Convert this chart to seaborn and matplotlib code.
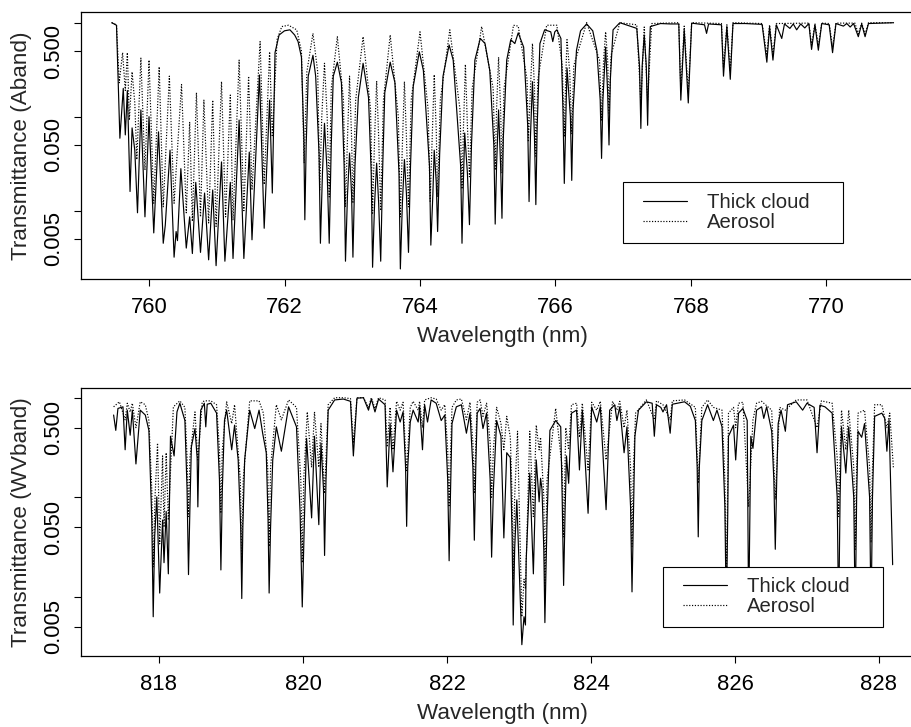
import numpy as np
import pandas as pd
import matplotlib
matplotlib.use('Agg')
import matplotlib.pyplot as plt
from matplotlib.patches import Rectangle
import seaborn as sns

# (wavelength nm, transmittance), O2 A band
aband_cloud = [
    (759.45, 1.0), (759.52, 0.94), (759.57, 0.059), (759.62, 0.20), (759.65, 0.064),
    (759.68, 0.19), (759.72, 0.016), (759.75, 0.076), (759.79, 0.044), (759.83, 0.0095),
    (759.88, 0.118), (759.94, 0.0086), (760.00, 0.10), (760.07, 0.0058), (760.14, 0.069),
    (760.21, 0.0045), (760.24, 0.0070), (760.31, 0.044), (760.37, 0.0032), (760.40, 0.0060),
    (760.42, 0.0048), (760.47, 0.028), (760.55, 0.0040), (760.60, 0.0086), (760.64, 0.0035),
    (760.69, 0.020), (760.76, 0.0036), (760.82, 0.0154), (760.88, 0.0030), (760.94, 0.0166),
    (760.99, 0.0026), (761.07, 0.033), (761.12, 0.0029), (761.20, 0.020), (761.24, 0.0031),
    (761.33, 0.092), (761.40, 0.0031), (761.48, 0.042), (761.52, 0.0049), (761.63, 0.278),
    (761.70, 0.0065), (761.78, 0.15), (761.82, 0.0154), (761.86, 0.48), (761.92, 0.74),
    (762.00, 0.82), (762.08, 0.84), (762.15, 0.74), (762.20, 0.63), (762.25, 0.43),
    (762.285, 0.06), (762.30, 0.0080), (762.32, 0.05), (762.35, 0.27), (762.42, 0.45),
    (762.46, 0.27), (762.51, 0.04), (762.53, 0.0045), (762.56, 0.025), (762.59, 0.085),
    (762.63, 0.025), (762.66, 0.0045), (762.69, 0.05), (762.72, 0.27), (762.78, 0.38),
    (762.84, 0.23), (762.88, 0.03), (762.90, 0.0029), (762.93, 0.015), (762.96, 0.041),
    (762.99, 0.015), (763.01, 0.0032), (763.04, 0.03), (763.09, 0.16), (763.16, 0.37),
    (763.24, 0.16), (763.28, 0.025), (763.30, 0.0025), (763.33, 0.012), (763.36, 0.032),
    (763.39, 0.012), (763.42, 0.0029), (763.45, 0.03), (763.48, 0.18), (763.56, 0.38),
    (763.63, 0.23), (763.69, 0.025), (763.71, 0.0024), (763.74, 0.012), (763.77, 0.035),
    (763.80, 0.015), (763.83, 0.0036), (763.86, 0.03), (763.90, 0.21), (763.99, 0.49),
    (764.05, 0.31), (764.14, 0.03), (764.16, 0.0043), (764.19, 0.015), (764.21, 0.044),
    (764.24, 0.02), (764.26, 0.0060), (764.29, 0.04), (764.34, 0.27), (764.43, 0.58),
    (764.49, 0.40), (764.60, 0.03), (764.62, 0.0045), (764.64, 0.02), (764.66, 0.067),
    (764.70, 0.025), (764.73, 0.0071), (764.76, 0.05), (764.81, 0.40), (764.89, 0.68),
    (764.96, 0.60), (765.03, 0.31), (765.09, 0.05), (765.11, 0.0072), (765.13, 0.03),
    (765.16, 0.118), (765.19, 0.03), (765.21, 0.0083), (765.23, 0.06), (765.28, 0.40),
    (765.34, 0.66), (765.40, 0.60), (765.45, 0.78), (765.53, 0.55), (765.59, 0.08),
    (765.61, 0.0125), (765.63, 0.06), (765.66, 0.236), (765.69, 0.06), (765.71, 0.0116),
    (765.73, 0.08), (765.77, 0.60), (765.84, 0.84), (765.93, 0.80), (765.96, 0.63),
    (765.99, 0.80), (766.02, 0.84), (766.08, 0.68), (766.11, 0.12), (766.13, 0.0195),
    (766.15, 0.08), (766.17, 0.33), (766.22, 0.10), (766.24, 0.021), (766.26, 0.12),
    (766.31, 0.51), (766.37, 0.82), (766.46, 0.97), (766.55, 0.82), (766.61, 0.51),
    (766.66, 0.15), (766.68, 0.036), (766.70, 0.15), (766.74, 0.55), (766.77, 0.18),
    (766.79, 0.050), (766.81, 0.25), (766.85, 0.84), (766.95, 1.0), (767.20, 0.87),
    (767.24, 0.35), (767.26, 0.075), (767.28, 0.35), (767.31, 0.74), (767.34, 0.35),
    (767.36, 0.081), (767.38, 0.40), (767.40, 0.91), (767.55, 0.98), (767.70, 0.97),
    (767.82, 0.97), (767.85, 0.15), (767.90, 0.84), (767.96, 0.14), (768.01, 0.99),
    (768.20, 0.95), (768.23, 0.77), (768.26, 0.97), (768.45, 0.95), (768.48, 0.27),
    (768.53, 0.91), (768.58, 0.25), (768.62, 0.98), (768.80, 0.98), (769.05, 0.96),
    (769.12, 0.38), (769.16, 0.90), (769.21, 0.40), (769.26, 0.95), (769.34, 0.68),
    (769.38, 0.97), (769.46, 0.87), (769.51, 0.97), (769.56, 0.84), (769.62, 0.97),
    (769.68, 0.88), (769.74, 0.98), (769.78, 0.52), (769.83, 0.95), (769.88, 0.51),
    (769.93, 0.98), (770.04, 0.95), (770.09, 0.48), (770.14, 0.98), (770.25, 0.92),
    (770.30, 0.98), (770.35, 0.90), (770.40, 0.98), (770.47, 0.71), (770.52, 0.97),
    (770.57, 0.71), (770.62, 0.98), (770.99, 1.0),
]

aband_aerosol = [
    (759.45, 1.0), (759.52, 0.95), (759.56, 0.23), (759.61, 0.48), (759.65, 0.19),
    (759.68, 0.48), (759.71, 0.092), (759.75, 0.30), (759.79, 0.14), (759.82, 0.035),
    (759.88, 0.42), (759.94, 0.027), (760.00, 0.40), (760.07, 0.012), (760.15, 0.34),
    (760.21, 0.011), (760.30, 0.27), (760.37, 0.012), (760.48, 0.22), (760.55, 0.0095),
    (760.60, 0.088), (760.64, 0.0077), (760.70, 0.18), (760.76, 0.0086), (760.81, 0.15),
    (760.88, 0.0074), (760.94, 0.15), (760.99, 0.0068), (761.07, 0.236), (761.13, 0.0086),
    (761.20, 0.17), (761.24, 0.0079), (761.33, 0.40), (761.40, 0.0100), (761.47, 0.27),
    (761.52, 0.0166), (761.64, 0.63), (761.70, 0.019), (761.78, 0.49), (761.82, 0.061),
    (761.89, 0.66), (761.96, 0.91), (762.06, 0.94), (762.18, 0.84), (762.25, 0.50),
    (762.29, 0.032), (762.33, 0.30), (762.42, 0.77), (762.49, 0.30), (762.52, 0.0166),
    (762.55, 0.10), (762.59, 0.37), (762.63, 0.10), (762.66, 0.014), (762.69, 0.20),
    (762.78, 0.71), (762.87, 0.15), (762.90, 0.0111), (762.93, 0.06), (762.96, 0.27),
    (762.99, 0.06), (763.01, 0.012), (763.05, 0.15), (763.16, 0.71), (763.27, 0.12),
    (763.30, 0.0094), (763.33, 0.06), (763.36, 0.24), (763.39, 0.06), (763.42, 0.010),
    (763.46, 0.15), (763.56, 0.74), (763.68, 0.10), (763.71, 0.0086), (763.74, 0.05),
    (763.77, 0.236), (763.80, 0.06), (763.83, 0.011), (763.87, 0.15), (764.00, 0.80),
    (764.12, 0.12), (764.15, 0.0126), (764.18, 0.06), (764.21, 0.28), (764.24, 0.07),
    (764.26, 0.014), (764.30, 0.15), (764.44, 0.84), (764.59, 0.12), (764.62, 0.017),
    (764.64, 0.07), (764.67, 0.36), (764.70, 0.08), (764.73, 0.023), (764.77, 0.20),
    (764.91, 0.91), (765.08, 0.20), (765.11, 0.027), (765.13, 0.12), (765.16, 0.43),
    (765.19, 0.12), (765.21, 0.025), (765.24, 0.20), (765.38, 0.94), (765.45, 0.92),
    (765.58, 0.25), (765.60, 0.054), (765.63, 0.20), (765.66, 0.60), (765.69, 0.20),
    (765.71, 0.038), (765.74, 0.25), (765.87, 0.94), (766.02, 0.94), (766.10, 0.35),
    (766.13, 0.061), (766.15, 0.25), (766.17, 0.66), (766.21, 0.30), (766.24, 0.066),
    (766.27, 0.35), (766.46, 1.0), (766.65, 0.40), (766.68, 0.092), (766.71, 0.40),
    (766.74, 0.80), (766.77, 0.40), (766.79, 0.109), (766.82, 0.45), (766.95, 1.0),
    (767.20, 0.95), (767.26, 0.14), (767.31, 0.90), (767.36, 0.15), (767.42, 0.98),
    (767.82, 1.0), (767.85, 0.19), (767.90, 0.92), (767.96, 0.18), (768.01, 1.0),
    (768.45, 0.98), (768.48, 0.33), (768.53, 0.95), (768.58, 0.31), (768.62, 1.0),
    (769.05, 0.98), (769.12, 0.45), (769.16, 0.95), (769.21, 0.46), (769.26, 0.98),
    (769.74, 0.99), (769.78, 0.58), (769.83, 0.98), (769.88, 0.57), (769.93, 0.99),
    (770.04, 0.98), (770.09, 0.55), (770.14, 0.99), (770.42, 0.99), (770.47, 0.76),
    (770.52, 0.99), (770.57, 0.76), (770.62, 1.0), (770.99, 1.0),
]

# water vapour band
wv_cloud = [
    (817.37, 0.67), (817.40, 0.47), (817.43, 0.78), (817.50, 0.81), (817.53, 0.30),
    (817.56, 0.75), (817.60, 0.42), (817.63, 0.75), (817.68, 0.216), (817.74, 0.75),
    (817.81, 0.67), (817.86, 0.47), (817.90, 0.06), (817.92, 0.0063), (817.94, 0.04),
    (817.97, 0.101), (818.01, 0.0109), (818.05, 0.059), (818.07, 0.022), (818.10, 0.072),
    (818.13, 0.017), (818.16, 0.41), (818.21, 0.26), (818.25, 0.72), (818.29, 0.88),
    (818.36, 0.59), (818.39, 0.12), (818.41, 0.0167), (818.43, 0.08), (818.45, 0.32),
    (818.50, 0.49), (818.53, 0.25), (818.54, 0.080), (818.555, 0.30), (818.58, 0.75),
    (818.63, 0.88), (818.65, 0.51), (818.67, 0.86), (818.72, 0.88), (818.80, 0.70),
    (818.84, 0.15), (818.86, 0.0186), (818.88, 0.12), (818.91, 0.59), (818.94, 0.75),
    (819.01, 0.30), (819.05, 0.53), (819.10, 0.237), (819.135, 0.05), (819.15, 0.0096),
    (819.165, 0.05), (819.19, 0.237), (819.26, 0.75), (819.33, 0.49), (819.39, 0.75),
    (819.44, 0.44), (819.49, 0.28), (819.515, 0.06), (819.53, 0.0109), (819.55, 0.05),
    (819.58, 0.237), (819.63, 0.51), (819.70, 0.29), (819.80, 0.81), (819.91, 0.51),
    (819.96, 0.07), (819.99, 0.0079), (820.02, 0.06), (820.05, 0.39), (820.12, 0.062),
    (820.16, 0.41), (820.22, 0.053), (820.25, 0.35), (820.285, 0.12), (820.30, 0.026),
    (820.32, 0.15), (820.35, 0.75), (820.44, 0.95), (820.56, 0.97), (820.66, 0.92),
    (820.70, 0.26), (820.75, 0.99), (820.84, 1.0), (820.91, 0.75), (820.95, 0.97),
    (821.00, 0.72), (821.05, 0.97), (821.14, 0.85), (821.17, 0.127), (821.21, 0.55),
    (821.25, 0.18), (821.30, 0.75), (821.35, 0.57), (821.39, 0.72), (821.425, 0.20),
    (821.44, 0.051), (821.455, 0.20), (821.49, 0.57), (821.53, 0.75), (821.60, 0.57),
    (821.62, 0.81), (821.66, 0.30), (821.69, 0.85), (821.73, 0.57), (821.78, 0.95),
    (821.85, 0.88), (821.92, 0.59), (821.97, 0.67), (822.01, 0.15), (822.03, 0.023),
    (822.05, 0.12), (822.07, 0.55), (822.13, 0.81), (822.20, 0.85), (822.27, 0.44),
    (822.32, 0.70), (822.36, 0.20), (822.38, 0.037), (822.40, 0.20), (822.42, 0.70),
    (822.46, 0.78), (822.50, 0.49), (822.55, 0.70), (822.60, 0.15), (822.62, 0.025),
    (822.645, 0.12), (822.69, 0.59), (822.75, 0.41), (822.79, 0.039), (822.83, 0.28),
    (822.88, 0.25), (822.905, 0.04), (822.92, 0.0052), (822.94, 0.03), (822.97, 0.094),
    (823.04, 0.0033), (823.07, 0.0063), (823.09, 0.0052), (823.10, 0.023), (823.15, 0.175),
    (823.20, 0.017), (823.24, 0.237), (823.28, 0.090), (823.30, 0.155), (823.32, 0.12),
    (823.345, 0.03), (823.36, 0.0055), (823.39, 0.06), (823.43, 0.47), (823.51, 0.59),
    (823.58, 0.51), (823.60, 0.10), (823.62, 0.013), (823.64, 0.07), (823.66, 0.26),
    (823.69, 0.138), (823.73, 0.70), (823.80, 0.75), (823.84, 0.188), (823.88, 0.75),
    (823.96, 0.069), (824.01, 0.81), (824.08, 0.57), (824.13, 0.81), (824.21, 0.075),
    (824.26, 0.75), (824.33, 0.85), (824.36, 0.59), (824.40, 0.81), (824.46, 0.28),
    (824.50, 0.51), (824.55, 0.08), (824.57, 0.0112), (824.59, 0.07), (824.61, 0.41),
    (824.66, 0.75), (824.77, 0.91), (824.85, 0.88), (824.88, 0.41), (824.91, 0.85),
    (824.97, 0.80), (825.00, 0.72), (825.05, 0.85), (825.10, 0.44), (825.13, 0.86),
    (825.20, 0.88), (825.30, 0.91), (825.38, 0.82), (825.45, 0.59), (825.475, 0.20),
    (825.49, 0.040), (825.505, 0.20), (825.54, 0.59), (825.62, 0.85), (825.70, 0.59),
    (825.75, 0.75), (825.82, 0.51), (825.86, 0.08), (825.88, 0.006), (825.90, 0.07),
    (825.91, 0.41), (825.98, 0.53), (826.01, 0.237), (826.05, 0.70), (826.11, 0.78),
    (826.17, 0.59), (826.19, 0.006), (826.22, 0.41), (826.25, 0.31), (826.30, 0.75),
    (826.37, 0.81), (826.40, 0.62), (826.44, 0.81), (826.51, 0.46), (826.54, 0.15),
    (826.56, 0.030), (826.58, 0.15), (826.60, 0.55), (826.64, 0.75), (826.70, 0.46),
    (826.73, 0.85), (826.85, 0.91), (826.94, 0.75), (827.00, 0.88), (827.10, 0.80),
    (827.14, 0.28), (827.18, 0.84), (827.25, 0.81), (827.35, 0.70), (827.42, 0.10),
    (827.44, 0.006), (827.46, 0.10), (827.48, 0.51), (827.54, 0.175), (827.58, 0.51),
    (827.65, 0.10), (827.67, 0.006), (827.69, 0.10), (827.71, 0.46), (827.76, 0.40),
    (827.80, 0.55), (827.87, 0.10), (827.89, 0.006), (827.91, 0.10), (827.94, 0.65),
    (828.04, 0.70), (828.08, 0.62), (828.11, 0.29), (828.14, 0.60), (828.19, 0.021),
]

wv_aerosol = [
    (817.37, 0.81), (817.45, 0.91), (817.53, 0.60), (817.56, 0.88), (817.60, 0.72),
    (817.63, 0.88), (817.68, 0.50), (817.74, 0.91), (817.81, 0.85), (817.86, 0.59),
    (817.90, 0.12), (817.92, 0.020), (817.945, 0.10), (817.98, 0.35), (818.01, 0.034),
    (818.05, 0.26), (818.07, 0.050), (818.10, 0.28), (818.13, 0.059), (818.20, 0.81),
    (818.29, 0.93), (818.36, 0.80), (818.39, 0.25), (818.41, 0.064), (818.43, 0.25),
    (818.50, 0.72), (818.54, 0.237), (818.60, 0.90), (818.63, 0.93), (818.72, 0.93),
    (818.80, 0.85), (818.84, 0.30), (818.86, 0.069), (818.88, 0.30), (818.94, 0.91),
    (819.01, 0.55), (819.05, 0.85), (819.13, 0.15), (819.15, 0.022), (819.17, 0.15),
    (819.26, 0.93), (819.39, 0.93), (819.45, 0.70), (819.51, 0.20), (819.53, 0.032),
    (819.55, 0.20), (819.63, 0.85), (819.70, 0.60), (819.80, 0.95), (819.91, 0.80),
    (819.97, 0.15), (819.99, 0.022), (820.01, 0.15), (820.06, 0.72), (820.12, 0.20),
    (820.16, 0.72), (820.22, 0.20), (820.25, 0.55), (820.30, 0.109), (820.35, 0.85),
    (820.44, 1.0), (820.56, 1.0), (820.66, 0.98), (820.70, 0.35), (820.75, 1.0),
    (820.84, 1.0), (820.91, 0.80), (820.95, 1.0), (821.00, 0.78), (821.05, 1.0),
    (821.14, 0.95), (821.17, 0.32), (821.21, 0.80), (821.25, 0.30), (821.30, 0.92),
    (821.35, 0.75), (821.39, 0.90), (821.44, 0.18), (821.49, 0.80), (821.53, 0.92),
    (821.60, 0.75), (821.62, 0.92), (821.66, 0.50), (821.69, 0.95), (821.78, 1.0),
    (821.85, 0.97), (821.92, 0.75), (821.97, 0.85), (822.01, 0.30), (822.03, 0.080),
    (822.05, 0.30), (822.07, 0.80), (822.13, 0.95), (822.20, 0.97), (822.27, 0.60),
    (822.32, 0.90), (822.36, 0.35), (822.38, 0.109), (822.40, 0.35), (822.42, 0.90),
    (822.46, 0.95), (822.50, 0.65), (822.55, 0.88), (822.60, 0.35), (822.62, 0.10),
    (822.645, 0.30), (822.69, 0.80), (822.75, 0.55), (822.79, 0.30), (822.83, 0.65),
    (822.88, 0.40), (822.905, 0.10), (822.92, 0.0148), (822.94, 0.10), (822.98, 0.46),
    (823.04, 0.0063), (823.07, 0.015), (823.09, 0.012), (823.15, 0.46), (823.20, 0.064),
    (823.24, 0.53), (823.28, 0.30), (823.30, 0.40), (823.345, 0.10), (823.36, 0.0125),
    (823.39, 0.15), (823.51, 0.78), (823.60, 0.20), (823.62, 0.040), (823.64, 0.20),
    (823.65, 0.50), (823.69, 0.30), (823.73, 0.85), (823.80, 0.88), (823.84, 0.40),
    (823.88, 0.88), (823.96, 0.188), (824.01, 0.90), (824.08, 0.75), (824.13, 0.92),
    (824.21, 0.237), (824.30, 0.92), (824.36, 0.75), (824.40, 0.92), (824.46, 0.50),
    (824.50, 0.75), (824.55, 0.20), (824.57, 0.032), (824.59, 0.20), (824.62, 0.70),
    (824.77, 0.95), (824.88, 0.60), (824.91, 0.93), (825.00, 0.85), (825.10, 0.60),
    (825.13, 0.93), (825.30, 0.95), (825.45, 0.80), (825.49, 0.138), (825.54, 0.80),
    (825.62, 0.95), (825.70, 0.80), (825.82, 0.75), (825.86, 0.15), (825.88, 0.012),
    (825.90, 0.15), (825.91, 0.70), (825.98, 0.80), (826.01, 0.50), (826.05, 0.88),
    (826.11, 0.90), (826.19, 0.080), (826.25, 0.60), (826.30, 0.88), (826.37, 0.92),
    (826.51, 0.75), (826.56, 0.095), (826.62, 0.80), (826.70, 0.75), (826.85, 0.95),
    (827.00, 0.95), (827.14, 0.50), (827.20, 0.93), (827.35, 0.88), (827.42, 0.25),
    (827.44, 0.064), (827.46, 0.25), (827.48, 0.75), (827.54, 0.30), (827.58, 0.75),
    (827.65, 0.20), (827.67, 0.030), (827.69, 0.20), (827.71, 0.70), (827.80, 0.75),
    (827.87, 0.20), (827.89, 0.035), (827.91, 0.20), (827.94, 0.85), (828.04, 0.85),
    (828.11, 0.50), (828.15, 0.70), (828.20, 0.20),
]

series_labels = ['Thick cloud', 'Aerosol']
aband_xticks = [760, 762, 764, 766, 768, 770]
wv_xticks = [818, 820, 822, 824, 826, 828]
y_ticks = [0.005, 0.01, 0.05, 0.1, 0.5, 1.0]
y_ticklabels = ['0.005', '', '0.050', '', '0.500', '']

sns.set_style('ticks')
plt.rcParams['font.family'] = ['Liberation Sans', 'DejaVu Sans']
TICK_FS = 15.8
LABEL_FS = 16.2
LEG_FS = 14.6

W, H = 912, 727
fig = plt.figure(figsize=(W / 100, H / 100), dpi=100)


def px_axes(left, top, right, bottom):
    return fig.add_axes([left / W, 1 - bottom / H, (right - left) / W, (bottom - top) / H])


def to_frame(pairs):
    return pd.DataFrame(pairs, columns=['wavelength', 'transmittance'])


def draw_panel(ax, cloud, aerosol, xlim, ylim, xticks, ylabel, box_px, entry_px):
    sns.lineplot(data=to_frame(cloud), x='wavelength', y='transmittance', ax=ax,
                 color='black', linewidth=0.85, estimator=None, sort=True,
                 label=series_labels[0])
    sns.lineplot(data=to_frame(aerosol), x='wavelength', y='transmittance', ax=ax,
                 color='black', linewidth=0.85, linestyle=(0, (1, 1.4)),
                 estimator=None, sort=True, label=series_labels[1])
    ax.set_yscale('log')
    ax.set_xlim(*xlim)
    ax.set_ylim(*ylim)
    ax.set_xticks(xticks)
    ax.set_xticklabels([str(t) for t in xticks])
    ax.set_yticks(y_ticks)
    ax.set_yticklabels(y_ticklabels, rotation=90, va='center')
    ax.minorticks_off()
    ax.tick_params(axis='both', direction='out', length=5, width=0.8,
                   labelsize=TICK_FS, colors='black')
    ax.tick_params(axis='x', pad=8)
    ax.tick_params(axis='y', pad=7)
    for sp in ax.spines.values():
        sp.set_linewidth(0.9)
        sp.set_color('black')
    ax.set_xlabel('Wavelength (nm)', fontsize=LABEL_FS, labelpad=6)
    ax.set_ylabel(ylabel, fontsize=LABEL_FS)
    ax.yaxis.set_label_coords(-0.058, 0.5)

    # legend box (white, covers the curves) and its entries on top
    l, t, r, b = box_px
    ax.add_patch(Rectangle((l / W, 1 - b / H), (r - l) / W, (b - t) / H,
                           transform=fig.transFigure, facecolor='white',
                           edgecolor='black', linewidth=0.8, clip_on=False, zorder=9))
    ex, ey = entry_px
    handles, labels = ax.get_legend_handles_labels()
    leg = ax.legend(handles, labels, loc='upper left',
                    bbox_to_anchor=(ex / W, 1 - ey / H),
                    bbox_transform=fig.transFigure, borderaxespad=0, borderpad=0,
                    fontsize=LEG_FS, frameon=False, handlelength=2.15,
                    handletextpad=1.0, labelspacing=0.05)
    leg.set_zorder(10)


# top: A band (axes run past the right edge of the figure, as in the cropped original)
ax1 = px_axes(81, 12, 924.7, 279)
draw_panel(ax1, aband_cloud, aband_aerosol, (758.996, 771.45), (0.001875, 1.30),
           aband_xticks, 'Transmittance (Aband)', (623, 182, 843, 243), (643, 193))

# bottom: water vapour band
ax2 = px_axes(81, 388, 923.6, 656)
draw_panel(ax2, wv_cloud, wv_aerosol, (816.917, 828.62), (0.00254, 1.252),
           wv_xticks, 'Transmittance (WVband)', (663, 567, 883, 627), (683, 577))

fig.savefig('out.png', dpi=100)
